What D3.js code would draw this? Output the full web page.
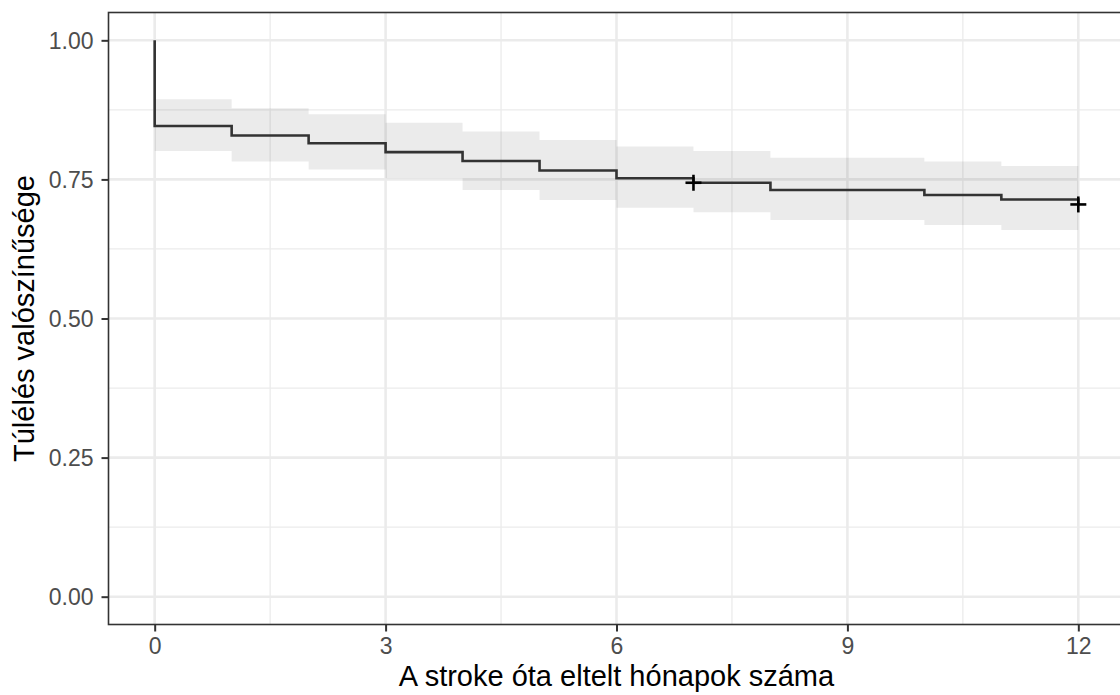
<!DOCTYPE html>
<html>
<head>
  <meta charset="utf-8">
  <title>Túlélés valószínűsége</title>
  <script src="https://d3js.org/d3.v7.min.js"></script>
  <style>
    body { margin: 0; background: #fff; }
    svg { display: block; font-family: "Liberation Sans", Arial, sans-serif; }
  </style>
</head>
<body>
<svg class="chart"></svg>

<script>
// Kaplan-Meier estimate
var times = [0, 1, 2, 3, 4, 5, 6, 7, 8, 10, 11, 12];
var surv  = [0.846, 0.829, 0.815, 0.799, 0.783, 0.766, 0.752, 0.744, 0.731, 0.722, 0.714, 0.705];
var upper = [0.894, 0.878, 0.867, 0.852, 0.836, 0.821, 0.809, 0.801, 0.789, 0.782, 0.774, 0.766];
var lower = [0.801, 0.782, 0.768, 0.752, 0.731, 0.713, 0.699, 0.691, 0.677, 0.668, 0.659, 0.652];

// censored observations
var censorTimes = [7, 12];
var censorSurv  = [0.744, 0.705];

var xTicks = [0, 3, 6, 9, 12];
var xMinor = [1.5, 4.5, 7.5, 10.5];
var yTicks = [0, 0.25, 0.5, 0.75, 1];
var yMinor = [0.125, 0.375, 0.625, 0.875];

var xTitle = "A stroke óta eltelt hónapok száma";
var yTitle = "Túlélés valószínűsége";

var width = 1120, height = 695;
var panelL = 108.5, panelT = 12.5, panelB = 624.5, panelR = 1124.5;

var svg = d3.select(".chart").attr("width", width).attr("height", height);

// ggplot style 5% expansion
var x = d3.scaleLinear().domain([-0.6, 12.6]).range([panelL, panelR]);
var y = d3.scaleLinear().domain([-0.05, 1.05]).range([panelB, panelT]);

var grid = svg.append("g");
grid.selectAll("line.xminor").data(xMinor).enter().append("line")
  .attr("x1", d => x(d)).attr("x2", d => x(d)).attr("y1", panelT).attr("y2", panelB)
  .attr("stroke", "#ebebeb").attr("stroke-width", 1.3);
grid.selectAll("line.yminor").data(yMinor).enter().append("line")
  .attr("x1", panelL).attr("x2", panelR).attr("y1", d => y(d)).attr("y2", d => y(d))
  .attr("stroke", "#ebebeb").attr("stroke-width", 1.3);
grid.selectAll("line.xmajor").data(xTicks).enter().append("line")
  .attr("x1", d => x(d)).attr("x2", d => x(d)).attr("y1", panelT).attr("y2", panelB)
  .attr("stroke", "#ebebeb").attr("stroke-width", 2.6);
grid.selectAll("line.ymajor").data(yTicks).enter().append("line")
  .attr("x1", panelL).attr("x2", panelR).attr("y1", d => y(d)).attr("y2", d => y(d))
  .attr("stroke", "#ebebeb").attr("stroke-width", 2.6);

// confidence band
var band = times.map((t, i) => ({t: t, lo: lower[i], hi: upper[i]}));
var area = d3.area()
  .curve(d3.curveStepAfter)
  .x(d => x(d.t))
  .y0(d => y(d.lo))
  .y1(d => y(d.hi));
svg.append("path").datum(band)
  .attr("d", area)
  .attr("fill", "#000").attr("fill-opacity", 0.08);

// survival step line, starts at 1 at time 0
var pts = [{t: 0, s: 1}].concat(times.map((t, i) => ({t: t, s: surv[i]})));
var line = d3.line()
  .curve(d3.curveStepAfter)
  .x(d => x(d.t))
  .y(d => y(d.s));
svg.append("path").datum(pts)
  .attr("d", line)
  .attr("fill", "none")
  .attr("stroke", "#333").attr("stroke-width", 2.6);

// censor marks
var cens = censorTimes.map((t, i) => ({t: t, s: censorSurv[i]}));
var plus = svg.selectAll("g.cens").data(cens).enter().append("g")
  .attr("transform", d => "translate(" + x(d.t) + "," + y(d.s) + ")");
plus.append("line").attr("x1", -8).attr("x2", 8).attr("y1", 0).attr("y2", 0)
  .attr("stroke", "#000").attr("stroke-width", 2.6);
plus.append("line").attr("x1", 0).attr("x2", 0).attr("y1", -8).attr("y2", 8)
  .attr("stroke", "#000").attr("stroke-width", 2.6);

// panel border
svg.append("rect")
  .attr("x", panelL).attr("y", panelT)
  .attr("width", panelR - panelL).attr("height", panelB - panelT)
  .attr("fill", "none").attr("stroke", "#333").attr("stroke-width", 1.6);

// axes
var xAxis = svg.append("g")
  .attr("transform", "translate(0," + panelB + ")")
  .call(d3.axisBottom(x).tickValues(xTicks).tickSize(7).tickPadding(5).tickFormat(d3.format("d")));
var yAxis = svg.append("g")
  .attr("transform", "translate(" + panelL + ",0)")
  .call(d3.axisLeft(y).tickValues(yTicks).tickSize(7).tickPadding(8).tickFormat(d3.format(".2f")));

[xAxis, yAxis].forEach(function(a) {
  a.select(".domain").remove();
  a.selectAll(".tick line").attr("stroke", "#333").attr("stroke-width", 2);
  a.selectAll(".tick text")
    .attr("fill", "#4d4d4d")
    .style("font-size", "23px")
    .style("font-family", "'Liberation Sans', Arial, sans-serif");
});
yAxis.selectAll(".tick text").attr("x", -15).attr("dy", "0.36em");
xAxis.selectAll(".tick text").attr("y", 13).attr("dy", "0.71em");

// titles
svg.append("text")
  .attr("x", (panelL + panelR) / 2)
  .attr("y", 686)
  .attr("text-anchor", "middle")
  .style("font-size", "29px")
  .attr("fill", "#000")
  .text(xTitle);

svg.append("text")
  .attr("transform", "translate(34," + ((panelT + panelB) / 2) + ") rotate(-90)")
  .attr("text-anchor", "middle")
  .style("font-size", "29px")
  .attr("fill", "#000")
  .text(yTitle);
</script>
</body>
</html>
